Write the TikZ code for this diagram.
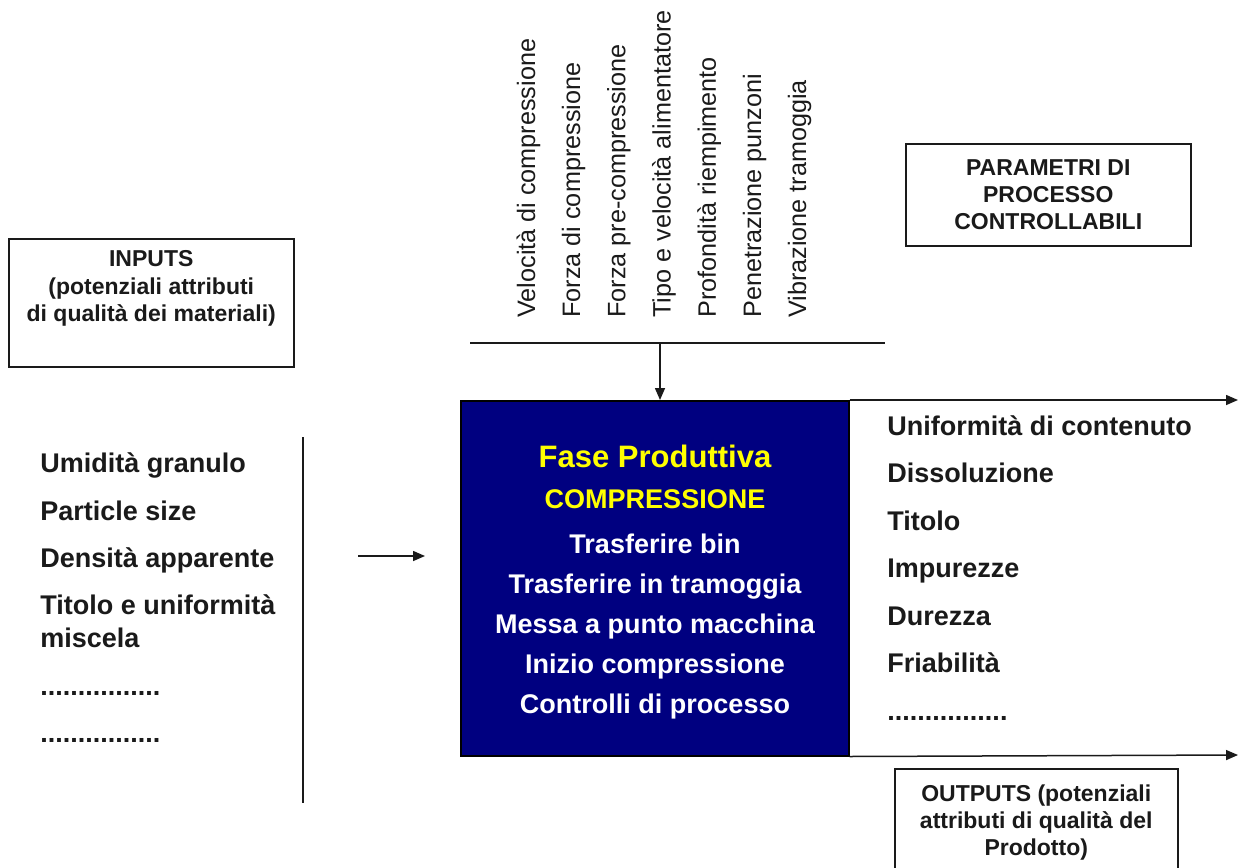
\documentclass[tikz,border=0pt]{standalone}
\usepackage{fontspec}
\setmainfont{Liberation Sans}
\usetikzlibrary{arrows.meta,positioning,calc}

\definecolor{navyfase}{HTML}{000080}
\definecolor{giallo}{HTML}{FFFF00}
\definecolor{ink}{HTML}{1A1A1A}
\newcommand{\puntini}{................}

\begin{document}
\begin{tikzpicture}[x=0.5pt,y=-0.5pt,>={Triangle[length=6pt,width=5pt]},
    every node/.style={font=\bfseries\fontsize{13.5}{16}\selectfont, text=ink},
    labelbox/.style={draw=ink, line width=0.75pt, align=center, inner sep=0pt,
      font=\bfseries\fontsize{11.5}{13.6}\selectfont},
    param/.style={rotate=90, anchor=base west, inner sep=0pt,
      font=\fontsize{12.6}{15}\selectfont},
    item/.style={anchor=base west, inner sep=0pt},
    flow/.style={draw=ink, line width=0.75pt}]
  \clip (0,0) rectangle (1241,867);
  \fill[white] (0,0) rectangle (1241,867);

  % process phase
  \node[draw=black, fill=navyfase, line width=0.75pt, inner sep=0pt, anchor=north west,
        minimum width=194pt, minimum height=177.5pt] (fase) at (460,400) {};
  \node[anchor=base, inner sep=0pt, text=giallo, font=\bfseries\fontsize{15.5}{18}\selectfont]
        (titolo) at (655,467) {Fase Produttiva};
  \node[anchor=base, inner sep=0pt, text=giallo] (comp) at (655,508) {COMPRESSIONE};
  \foreach \t [count=\i] in {Trasferire bin, Trasferire in tramoggia, Messa a punto macchina,
      Inizio compressione, Controlli di processo}
    \node[anchor=base, inner sep=0pt, text=white] (op\i) at (655,{553+40*(\i-1)}) {\t};

  % controllable parameters
  \foreach \t [count=\i] in {Velocità di compressione, Forza di compressione,
      Forza pre-compressione, Tipo e velocità alimentatore, Profondità riempimento,
      Penetrazione punzoni, Vibrazione tramoggia}
    \node[param] (par\i) at ({535+45.2*(\i-1)},318) {\t};
  \coordinate (barL) at (470,343);
  \coordinate (barR) at (885,343);
  \coordinate (bar) at (660,343);
  \draw[flow] (barL) -- (barR);
  \draw[flow,->] (bar) -- (bar |- fase.north);
  \node[labelbox, anchor=north west, minimum width=142.5pt, minimum height=51pt]
        (parbox) at (905,143) {PARAMETRI DI\\PROCESSO\\CONTROLLABILI};

  % inputs
  \node[labelbox, anchor=north west, minimum width=142.5pt, minimum height=64pt]
        (inbox) at (8,238) {};
  \node[labelbox, draw=none, below=6pt of inbox.north] (intext)
        {INPUTS\\(potenziali attributi\\di qualità dei materiali)};
  \foreach \t/\y [count=\i] in {Umidità granulo/472, Particle size/520, Densità apparente/567,
      Titolo e uniformità/614, miscela/647, \puntini/695, \puntini/742}
    \node[item] (in\i) at (40,\y) {\t};
  \coordinate (sepT) at (303,437);
  \coordinate (sepB) at (303,803);
  \draw[flow] (sepT) -- (sepB);
  \coordinate (inA) at (358,556);
  \coordinate (inB) at (425,556);
  \draw[flow,->] (inA) -- (inB);

  % outputs
  \coordinate (outT) at (1238,400);
  \coordinate (outB) at (1238,755);
  \draw[flow,->] (fase.north east) -- (outT);
  \draw[flow,->] (fase.south east) -- (outB);
  \foreach \t [count=\i] in {Uniformità di contenuto, Dissoluzione, Titolo, Impurezze,
      Durezza, Friabilità, \puntini}
    \node[item] (out\i) at (887,{435+47.5*(\i-1)}) {\t};
  \node[labelbox, anchor=north west, minimum width=141.5pt, minimum height=54pt]
        (outbox) at (894,768) {OUTPUTS (potenziali\\attributi di qualità del\\Prodotto)};
\end{tikzpicture}
\end{document}
